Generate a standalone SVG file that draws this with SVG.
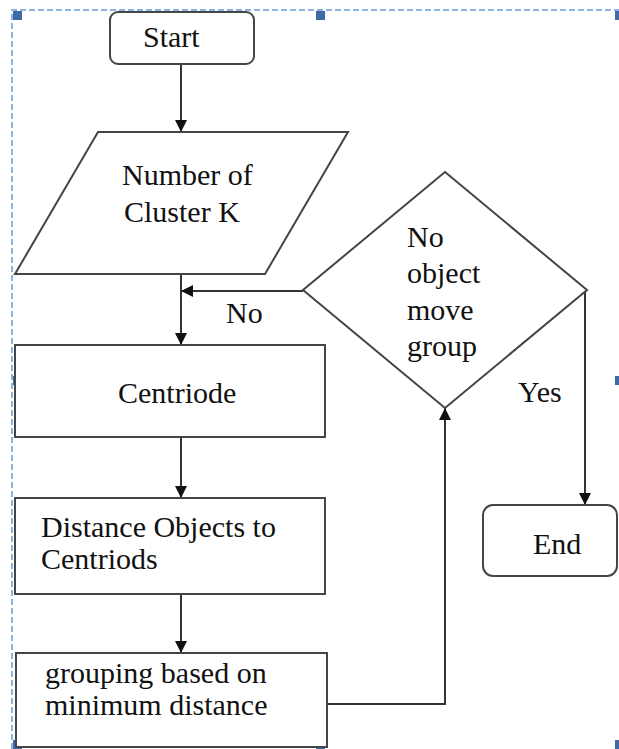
<svg xmlns="http://www.w3.org/2000/svg" width="619" height="749" viewBox="0 0 619 749">
<style>
.shape{fill:#fff;stroke:#454545;stroke-width:2}
.conn{fill:none;stroke:#333;stroke-width:2}
.sel{fill:none;stroke:#8db3e2;stroke-width:2;stroke-dasharray:6,3}
.h{fill:#3e6aa6}
</style>
<defs>
<marker id="arr" markerUnits="userSpaceOnUse" markerWidth="12" markerHeight="12" refX="12" refY="6" orient="auto">
<path d="M0,0 L12,6 L0,12 z" fill="#111"/>
</marker>
</defs>
<rect width="619" height="749" fill="#fff"/>
<g id="selection">
<path class="sel" d="M12,749 V10 H619"/>
<rect class="h" x="13" y="11" width="9" height="9"/>
<rect class="h" x="316" y="11" width="9" height="9"/>
<rect class="h" x="615" y="11" width="9" height="9"/>
<rect class="h" x="13" y="376" width="9" height="9"/>
<rect class="h" x="615" y="376" width="9" height="9"/>
<rect class="h" x="13" y="740" width="9" height="9"/>
<rect class="h" x="316" y="740" width="9" height="9"/>
<rect class="h" x="615" y="740" width="9" height="9"/>
</g>
<g id="connectors">
<path class="conn" d="M181,64 V132" marker-end="url(#arr)"/>
<path class="conn" d="M181,274 V345" marker-end="url(#arr)"/>
<path class="conn" d="M303,291 H181" marker-end="url(#arr)"/>
<path class="conn" d="M181,437 V498" marker-end="url(#arr)"/>
<path class="conn" d="M181,594 V653" marker-end="url(#arr)"/>
<path class="conn" d="M327,704 H445 V408" marker-end="url(#arr)"/>
<path class="conn" d="M587,291 H585 V505" marker-end="url(#arr)"/>
<text x="226" y="323" style="font-family:'Liberation Serif',serif;font-size:30px" fill="#111">No</text>
<text x="518" y="402" style="font-family:'Liberation Serif',serif;font-size:30px" fill="#111">Yes</text>
</g>
<g id="start">
<rect class="shape" x="110" y="12" width="144" height="52" rx="8"/>
<text x="143" y="47" style="font-family:'Liberation Serif',serif;font-size:30px" fill="#111">Start</text>
</g>
<g id="input">
<path class="shape" d="M98,132 H348 L265,274 H15 Z"/>
<text x="122" y="185" style="font-family:'Liberation Serif',serif;font-size:30px" fill="#111">Number of</text>
<text x="124" y="222" style="font-family:'Liberation Serif',serif;font-size:30px" fill="#111">Cluster K</text>
</g>
<g id="centroid">
<rect class="shape" x="15" y="345" width="310" height="92"/>
<text x="118" y="403" style="font-family:'Liberation Serif',serif;font-size:30px" fill="#111">Centriode</text>
</g>
<g id="distance">
<rect class="shape" x="15" y="498" width="310" height="96"/>
<text x="41" y="537" style="font-family:'Liberation Serif',serif;font-size:30px" fill="#111">Distance Objects to</text>
<text x="41" y="569" style="font-family:'Liberation Serif',serif;font-size:30px" fill="#111">Centriods</text>
</g>
<g id="grouping">
<rect class="shape" x="16" y="653" width="311" height="94"/>
<text x="45" y="683" style="font-family:'Liberation Serif',serif;font-size:30px" fill="#111">grouping based on</text>
<text x="45" y="715" style="font-family:'Liberation Serif',serif;font-size:30px" fill="#111">minimum distance</text>
</g>
<g id="decision">
<path class="shape" d="M445,172 L587,290 L445,408 L303,290 Z"/>
<text x="407" y="247" style="font-family:'Liberation Serif',serif;font-size:30px" fill="#111">No</text>
<text x="407" y="283" style="font-family:'Liberation Serif',serif;font-size:30px" fill="#111">object</text>
<text x="407" y="320" style="font-family:'Liberation Serif',serif;font-size:30px" fill="#111">move</text>
<text x="407" y="356" style="font-family:'Liberation Serif',serif;font-size:30px" fill="#111">group</text>
</g>
<g id="end">
<rect class="shape" x="483" y="505" width="134" height="71" rx="10"/>
<text x="533" y="554" style="font-family:'Liberation Serif',serif;font-size:30px" fill="#111">End</text>
</g>
</svg>
